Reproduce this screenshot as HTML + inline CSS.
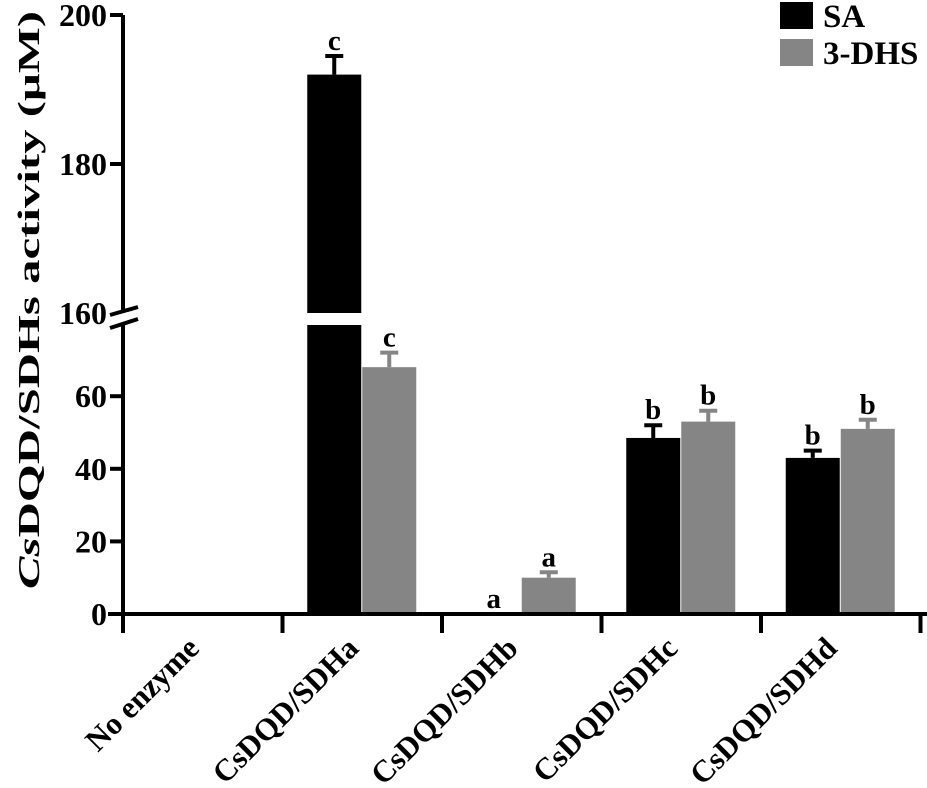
<!DOCTYPE html>
<html><head><meta charset="utf-8"><style>
body{margin:0;background:#fff}
svg{display:block;font-family:"Liberation Serif",serif;font-weight:bold}
</style></head><body>
<svg id="chart" width="927" height="788"></svg>
<script>
const categories=["No enzyme","SDHa","SDHb","SDHc","SDHd"];
const saValues=[0,192,0,48.5,43];
const saErrors=[0,2.5,0,3.5,2];
const dhsValues=[0,68,10,53,51];
const dhsErrors=[0,4,1.5,3,2.5];
const saLetters=["","c","a","b","b"];
const dhsLetters=["","c","a","b","b"];
const lowTicks=[0,20,40,60];
const highTicks=[160,180,200];

const NS="http://www.w3.org/2000/svg";
const svg=document.getElementById('chart');
function mk(t,a,p){const e=document.createElementNS(NS,t);for(const k in a)e.setAttribute(k,a[k]);(p||svg).appendChild(e);return e;}
const x0=123,step=159.5,bw=54;
function yLow(v){return 614-v*3.63;}
function yHigh(v){return 313-(v-160)*7.45;}
function yVal(v){return v>=160?yHigh(v):yLow(v);}
const gapTop=313,gapBot=325;

function drawBar(i,v,err,letter,color,off,name){
  if(i===0)return;
  const cx=x0+step*(i+0.5);
  const x=cx+off;
  const xm=x+bw/2;
  const top=yVal(v);
  if(v>=160){
    let r=mk('rect',{x:x,y:top,width:bw,height:gapTop-top,fill:color});
    
    r=mk('rect',{x:x,y:gapBot,width:bw,height:614-gapBot,fill:color});
    
  }else if(v>0){
    const r=mk('rect',{x:x,y:top,width:bw,height:614-top,fill:color});
    
  }
  let ty=top-6;
  if(v>0&&err>0){
    const et=yVal(v+err);
    const l=mk('path',{d:`M${xm},${top} V${et} M${xm-9},${et} H${xm+9}`,stroke:color,'stroke-width':4,fill:'none'});
    
    ty=et-6;
  }
  if(letter){
    const t=mk('text',{x:xm,y:ty,'text-anchor':'middle','font-size':29});
    t.textContent=letter;
    
  }
}
categories.forEach((c,i)=>{
  drawBar(i,saValues[i],saErrors[i],saLetters[i],'#000',-bw-1,'bar-sa-'+i);
  drawBar(i,dhsValues[i],dhsErrors[i],dhsLetters[i],'#858585',0,'bar-3dhs-'+i);
});

let ax=mk('path',{d:`M${x0},${yHigh(200)} V${yHigh(160)} M${x0},${yHigh(160)+12} V614`,stroke:'#000','stroke-width':4,fill:'none'});

let br=mk('path',{d:`M${x0-13},${yHigh(160)+2} L${x0+15},${yHigh(160)-6} M${x0-13},${yHigh(160)+15} L${x0+15},${yHigh(160)+6}`,stroke:'#000','stroke-width':4});

function ylabel(v,y){
  const t=mk('text',{x:x0-16,y:y+11,'text-anchor':'end','font-size':32});
  t.textContent=v;
  
}
function ytick(v,y){
  const l=mk('line',{x1:x0-13,x2:x0,y1:y,y2:y,stroke:'#000','stroke-width':4});
  
  ylabel(v,y);
}
lowTicks.forEach(v=>ytick(v,yLow(v)));
highTicks.forEach(v=>{if(v!==160)ytick(v,yHigh(v));else ylabel(v,yHigh(v));});

let xa=mk('line',{x1:108,x2:927,y1:614,y2:614,stroke:'#000','stroke-width':4});

for(let i=0;i<=categories.length;i++){
  const x=x0+step*i;
  const l=mk('line',{x1:x,x2:x,y1:614,y2:633,stroke:'#000','stroke-width':4});
  
}
categories.forEach((c,i)=>{
  const cx=x0+step*(i+0.5)-2;
  const cy=650;
  const t=mk('text',{x:cx,y:cy,'text-anchor':'end','font-size':31,transform:`rotate(-45 ${cx} ${cy})`});
  
  t.textContent=i===0?c:'CsDQD/'+c;
});

const yt=mk('text',{x:39,y:300,'text-anchor':'middle','font-size':31,textLength:578,lengthAdjust:'spacingAndGlyphs',transform:'rotate(-90 39 300)'});

const ys=mk('tspan',{'font-style':'italic'},yt);ys.textContent='Cs';
const ys2=mk('tspan',{},yt);ys2.textContent='DQD/SDHs activity (μM)';

[['SA','#000',2],['3-DHS','#858585',39]].forEach(([n,c,y])=>{
  const r=mk('rect',{x:780,y:y,width:33,height:27,fill:c});
  
  const t=mk('text',{x:823,y:y+25,'font-size':33});
  t.textContent=n;
  
});
</script>
</body></html>
